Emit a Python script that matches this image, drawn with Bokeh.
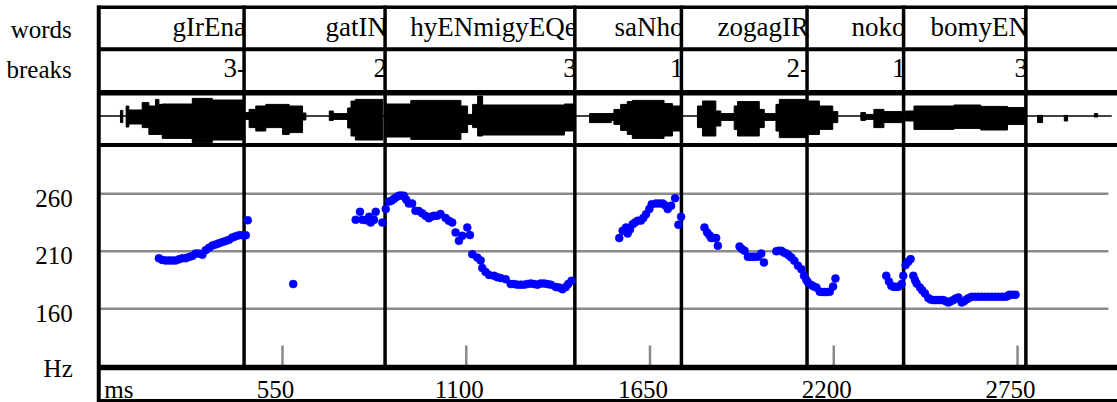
from bokeh.plotting import figure
from bokeh.models import Range1d
from bokeh.core.properties import value
from bokeh.embed import file_html
from bokeh.resources import INLINE

# ---------------- data ----------------
tick_ms = [550, 1100, 1650, 2200, 2750]
tick_labels = ["550", "1100", "1650", "2200", "2750"]
hz_ticks = [160, 210, 260]
hz_labels = ["160", "210", "260"]

word_ends = [435, 857, 1425, 1744, 2120, 2409, 2775]
words = ["gIrEna", "gatIN", "hyENmigyEQe", "saNho", "zogagIR", "noko", "bomyEN"]
breaks = ["3-", "2", "3", "1", "2-", "1", "3"]

pitch_ms = [180, 190, 200, 210, 220, 230, 240, 250, 260, 270, 280, 290, 300, 310, 320, 330, 340, 350, 360,
            370, 380, 390, 400, 410, 420, 430, 440, 446,
            582,
            769, 782, 789, 800, 809, 814, 824, 829, 849, 859, 869, 876, 883, 890, 898, 905, 913, 920, 928, 938,
            948, 958, 968, 978, 988, 995, 1003, 1013, 1023, 1038, 1048, 1058, 1068, 1078, 1088, 1103, 1111,
            1118, 1133, 1143, 1148, 1158, 1168, 1183, 1193, 1203, 1218, 1233, 1243, 1253, 1263, 1273, 1283,
            1293, 1303, 1313, 1323, 1333, 1343, 1353, 1368, 1378, 1388, 1398, 1405, 1415,
            1558, 1568, 1578, 1583, 1590, 1598, 1605, 1613, 1623, 1630, 1638, 1648, 1655, 1668, 1678, 1688,
            1695, 1703, 1713, 1725, 1735, 1743,
            1813, 1821, 1828, 1833, 1840, 1848, 1853, 1918, 1925, 1933, 1943, 1950, 1958, 1965, 1973, 1983,
            1991, 2028, 2035, 2043, 2050, 2058, 2065, 2073, 2082, 2093, 2103, 2111, 2118, 2123, 2133, 2140,
            2148, 2158, 2165, 2173, 2180, 2188, 2198, 2205,
            2357, 2365, 2372, 2378, 2385, 2393, 2403, 2408, 2415, 2423, 2430, 2438, 2443, 2448, 2458, 2465,
            2473, 2483, 2490, 2498, 2505, 2513, 2520, 2528, 2535, 2543, 2550, 2558, 2565, 2573, 2583, 2590,
            2598, 2605, 2613, 2623, 2633, 2643, 2653, 2663, 2673, 2683, 2693, 2703, 2713, 2720, 2726, 2735,
            2744]
pitch_hz = [204, 202.5, 202, 202, 202, 202, 203, 204, 204, 205, 206, 208, 208, 207, 211, 213, 215, 216, 217,
            218, 219, 220, 222, 223, 224, 224, 224, 237,
            181.5,
            237.4, 244.3, 237.4, 237, 240, 235, 237.4, 244.3, 235, 246.7, 253.3, 254, 255.4, 257, 258.3, 258.5,
            258.3, 255, 251.6, 251.6, 245.2, 245, 243, 240.9, 238.8, 240, 240.9, 241, 242.5, 239, 236.5, 235,
            226.4, 219.1, 223.5, 230.7, 224.1,
            207.5, 204.6, 202, 195.4, 192, 189.5, 188.7, 187.5, 186.7, 185.8, 181.5, 181.5, 181, 181, 181,
            181.5, 182, 181.5, 181, 182, 182, 181.5, 181, 179, 178.5, 177, 179, 181.5, 184.3,
            221.5, 227.8, 230.7, 225.5, 229, 233.6, 235, 236.5, 236.7, 239, 242.3, 246.7, 251, 251.6, 251.6,
            251.6, 250, 246.7, 249.6, 256.2, 233, 240,
            230.7, 226.4, 224, 221.5, 221.5, 221.5, 214.8, 214.2, 212, 210.4, 205.2, 205.2, 205.2, 205.2, 205.2,
            208.1, 200.3, 210, 210.4, 210.4, 209, 208.1, 206.5, 204.6, 201.7, 197.4, 194.5, 188.7, 185, 182.9,
            180.6, 179.5, 178.5, 174.8, 174.6, 174.6, 174.6, 174.8, 179.4, 186.4,
            188.7, 183.8, 180, 179.1, 179.1, 179.1, 181.5, 188.7, 198, 201, 203.2, 188.7, 185, 182, 178.5, 176,
            173.3, 169.3, 168, 167.6, 167.6, 167.6, 167.6, 167.6, 166.5, 165.5, 166.5, 167.6, 169, 169.9, 165.5,
            166.5, 168.2, 169.5, 170.4, 170.4, 170.4, 170.4, 170.4, 170.4, 170.4, 170.4, 170.4, 170.4, 170.4,
            171, 172.2, 172.2, 172.2]

# waveform envelope, piecewise (start ms, end ms, upper amplitude, lower amplitude)
wave_start = [65, 82, 90, 130, 150, 170, 180, 190, 280, 340, 435, 450, 470, 500, 550, 570, 610, 690, 702,
              745, 755, 768, 862, 934, 1084, 1104, 1119, 1134, 1149, 1394, 1469,
              1517, 1542, 1562, 1582, 1597, 1692, 1717, 1792, 1807, 1847, 1862, 1902, 1912, 1977, 1992, 2027,
              2037, 2117, 2157, 2197, 2281,
              2295, 2320, 2350, 2415, 2440, 2560, 2640, 2720, 2810, 2890, 2980]
wave_end = [72, 90, 130, 150, 170, 180, 190, 280, 340, 432, 450, 470, 500, 550, 570, 610, 620, 702, 745,
            755, 768, 850, 934, 1084, 1104, 1119, 1134, 1149, 1394, 1422, 1534,
            1542, 1562, 1582, 1597, 1692, 1717, 1742, 1807, 1847, 1862, 1902, 1912, 1977, 1992, 2027, 2037,
            2117, 2157, 2197, 2212, 2295,
            2320, 2350, 2405, 2440, 2560, 2640, 2720, 2770, 2825, 2900, 2990]
wave_up = [0.28, 0.5, 0.3, 0.67, 0.5, 0.83, 0.58, 0.6, 0.88, 0.8, 0.17, 0.33, 0.5, 0.58, 0.58, 0.5, 0.15,
           0.25, 0.12, 0.4, 0.75, 0.83, 0.6, 0.78, 0.5, 0.08, 0.58, 1.0, 0.55, 0.6, 0.12,
           0.12, 0.33, 0.58, 0.72, 0.78, 0.62, 0.5, 0.5, 0.75, 0.25, 0.12, 0.5, 0.72, 0.33, 0.12, 0.58,
           0.83, 0.75, 0.5, 0.22, 0.17,
           0.08, 0.33, 0.22, 0.25, 0.5, 0.55, 0.48, 0.42, 0.03, 0.03, 0.12]
wave_down = [0.33, 0.55, 0.4, 0.58, 0.92, 0.92, 0.92, 1.12, 1.33, 1.2, 0.17, 0.58, 0.75, 0.58, 0.92, 0.83, 0.2,
             0.22, 0.17, 0.6, 1.0, 1.2, 1.05, 1.17, 0.83, 0.42, 0.58, 1.0, 0.95, 0.75, 0.33,
             0.22, 0.42, 0.72, 0.92, 1.12, 1.0, 0.75, 0.58, 1.0, 0.5, 0.22, 0.67, 1.0, 0.58, 0.22, 0.75,
             1.08, 0.92, 0.67, 0.33, 0.22,
             0.17, 0.58, 0.33, 0.25, 0.67, 0.62, 0.7, 0.42, 0.33, 0.25, 0.05]

# ---------------- layout (pixels from top, styles) ----------------
PX_PER_MS = 0.3341
X0_PX = 98.25
W, H = 1117, 402
FONT = value("Liberation Serif")
FS = value("25px")
FS_TIER = value("27px")
SHIFT = -9      # baseline correction for svg text
SHIFT_TIER = -10

x_start = -X0_PX / PX_PER_MS
x_end = (W - X0_PX) / PX_PER_MS

p = figure(width=W, height=H, output_backend="svg", toolbar_location=None,
           x_range=Range1d(x_start, x_end),
           y_range=Range1d(260 - (H - 193.3) / 1.15, 260 + 193.3 / 1.15),
           x_axis_location=None, y_axis_location=None, min_border=0,
           outline_line_color=None, background_fill_color="white", border_fill_color="white")
p.extra_y_ranges = {
    "px": Range1d(H, 0),
    "wave": Range1d(-(H - 115.5) / 20.0, 115.5 / 20.0),
}
p.xgrid.visible = False
p.ygrid.visible = False

# pitch gridlines
p.segment(x0=[0] * len(hz_ticks), x1=[3022] * len(hz_ticks), y0=hz_ticks, y1=hz_ticks,
          line_color="#8a8a8a", line_width=2.5)
# x ticks inside the pitch panel
p.segment(x0=tick_ms, x1=tick_ms, y0=[345] * len(tick_ms), y1=[365] * len(tick_ms),
          y_range_name="px", line_color="#8a8a8a", line_width=2.5)

# waveform
p.segment(x0=[-4], x1=[3032], y0=[0], y1=[0], y_range_name="wave", line_color="black", line_width=1.6)
p.quad(left=wave_start, right=wave_end, top=wave_up, bottom=[-d for d in wave_down],
       y_range_name="wave", fill_color="black", line_color="black", line_width=1)

# tier texts
p.text(x=word_ends, y=[36.5] * len(words), text=words, y_range_name="px", text_align="right",
       text_baseline="alphabetic", x_offset=2, y_offset=SHIFT_TIER, text_font=FONT,
       text_font_size=FS_TIER, text_color="black")
p.text(x=word_ends, y=[77.5] * len(breaks), text=breaks, y_range_name="px", text_align="right",
       text_baseline="alphabetic", x_offset=2, y_offset=SHIFT_TIER, text_font=FONT,
       text_font_size=FS_TIER, text_color="black")

# word boundaries
p.segment(x0=word_ends, x1=word_ends, y0=[5] * len(word_ends), y1=[367] * len(word_ends),
          y_range_name="px", line_color="black", line_width=3.5)

# horizontal rules of the table
rule_y = [6.7, 48.7, 92.3, 144.5, 367, 400]
rule_w = [3.5, 4, 5.5, 4, 5.5, 3]
for yy, ww in zip(rule_y, rule_w):
    p.segment(x0=[-5], x1=[x_end + 10], y0=[yy], y1=[yy], y_range_name="px",
              line_color="black", line_width=ww)
# left border
p.segment(x0=[0], x1=[0], y0=[5], y1=[401.5], y_range_name="px", line_color="black", line_width=4)

# pitch points
p.scatter(x=pitch_ms, y=pitch_hz, size=8, marker="circle", fill_color="#0000ff", line_color="#0000ff",
          line_width=0.5)

# left labels
p.text(x=[0, 0], y=[37.7, 78.3], text=["words", "breaks"], y_range_name="px", text_align="right",
       text_baseline="alphabetic", x_offset=-27, y_offset=SHIFT, text_font=FONT, text_font_size=FS,
       text_color="black")
p.text(x=[0] * len(hz_ticks), y=hz_ticks, text=hz_labels, text_align="right", text_baseline="alphabetic",
       x_offset=-26, y_offset=13.4 + SHIFT, text_font=FONT, text_font_size=FS, text_color="black")
p.text(x=[0], y=[376.7], text=["Hz"], y_range_name="px", text_align="right", text_baseline="alphabetic",
       x_offset=-26, y_offset=SHIFT, text_font=FONT, text_font_size=FS, text_color="black")

# ms axis labels
p.text(x=tick_ms, y=[398] * len(tick_ms), text=tick_labels, y_range_name="px", text_align="center",
       text_baseline="alphabetic", x_offset=-7, y_offset=SHIFT, text_font=FONT, text_font_size=FS,
       text_color="black")
p.text(x=[0], y=[398], text=["ms"], y_range_name="px", text_align="left", text_baseline="alphabetic",
       x_offset=5.5, y_offset=SHIFT, text_font=FONT, text_font_size=FS, text_color="black")

open("out.html", "w").write(file_html(p, INLINE))
